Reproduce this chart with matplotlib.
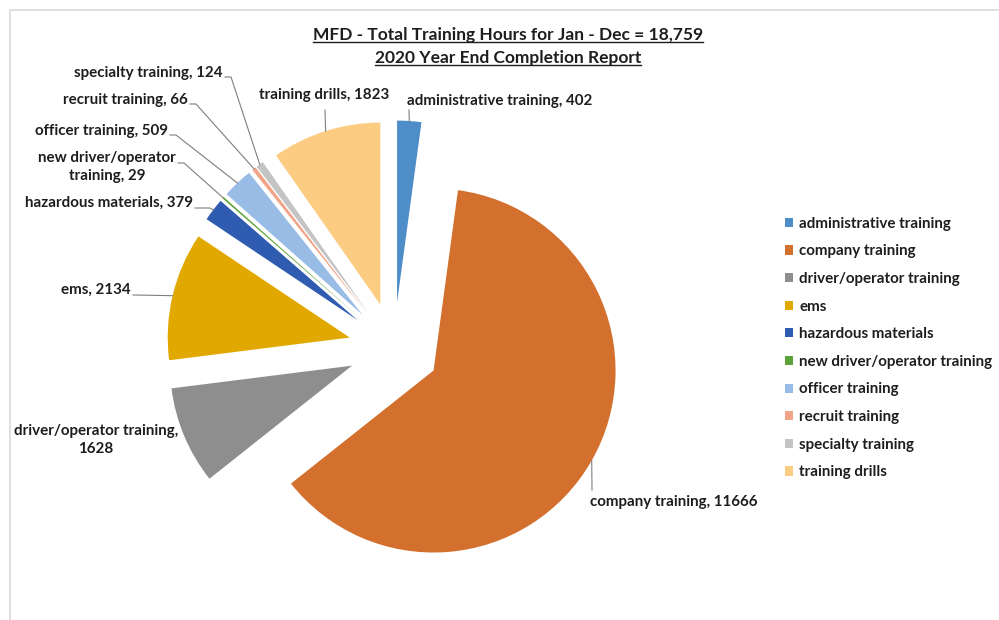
import matplotlib
matplotlib.use("Agg")
import matplotlib.pyplot as plt
import numpy as np

W, H = 999, 620

categories = ["administrative training", "company training", "driver/operator training",
              "ems", "hazardous materials", "new driver/operator training",
              "officer training", "recruit training", "specialty training", "training drills"]
hours = [402, 11666, 1628, 2134, 379, 29, 509, 66, 124, 1823]
colors = ["#4F8DC9", "#D3702D", "#8E8E8E", "#E1A900", "#2F5BB1",
          "#5EA33A", "#98BCE6", "#F2A488", "#C4C4C4", "#FDCC83"]

title_lines = ["MFD - Total Training Hours for Jan - Dec = 18,759",
               "2020 Year End Completion Report"]

# label layout in picture pixels (x, y from top): text pos, ha, leader start, elbow
label_layout = [
    dict(xy=(407, 101), ha="left", start=(409, 110), elbow=None),
    dict(xy=(590, 502), ha="left", start=(592, 490), elbow=None),
    dict(xy=(96, 440), ha="center", start=None, elbow=None),
    dict(xy=(131, 290), ha="right", start=(133, 295), elbow=None),
    dict(xy=(193, 203), ha="right", start=(195, 208), elbow=(210, 208)),
    dict(xy=(107, 167), ha="center", start=(178, 163), elbow=(184, 163)),
    dict(xy=(168, 131), ha="right", start=(170, 135), elbow=(176, 135)),
    dict(xy=(188, 100), ha="right", start=(190, 104), elbow=(196, 104)),
    dict(xy=(223, 73), ha="right", start=(225, 77), elbow=(231, 77)),
    dict(xy=(259, 95), ha="left", start=(325, 110), elbow=None),
]
label_text = ["administrative training, 402", "company training, 11666",
              "driver/operator training,\n1628", "ems, 2134", "hazardous materials, 379",
              "new driver/operator\ntraining, 29", "officer training, 509",
              "recruit training, 66", "specialty training, 124", "training drills, 1823"]

FONT = "Lato"
TXT = "#1E1E1E"
RADIUS = 182

fig = plt.figure(figsize=(W / 100, H / 100), dpi=100)
ax = fig.add_axes([0, 0, 1, 1])

def Y(y):
    return H - y

# explode is in data units here, so scale by radius
wedges, _ = ax.pie(hours, explode=[0.25 * RADIUS] * len(hours), colors=colors,
                   startangle=90, counterclock=False, radius=RADIUS,
                   center=(394, Y(348)), wedgeprops=dict(linewidth=0))
ax.set_xlim(0, W)
ax.set_ylim(0, H)
ax.set_aspect("equal")
ax.axis("off")

# chart frame (top and left edges visible)
ax.plot([10, 10, W], [0, Y(10), Y(10)], color="#D9D9D9", lw=1.2)

for w, txt, lay in zip(wedges, label_text, label_layout):
    mid = np.deg2rad((w.theta1 + w.theta2) / 2)
    px = w.center[0] + w.r * np.cos(mid)
    py = w.center[1] + w.r * np.sin(mid)
    x, y = lay["xy"]
    ax.text(x, Y(y), txt, ha=lay["ha"], va="center", fontsize=10.9, fontweight="bold",
            family=FONT, color=TXT, linespacing=1.35)
    if lay["start"] is not None:
        xs = [lay["start"][0]]
        ys = [Y(lay["start"][1])]
        if lay["elbow"] is not None:
            xs.append(lay["elbow"][0])
            ys.append(Y(lay["elbow"][1]))
        xs.append(px)
        ys.append(py)
        ax.plot(xs, ys, color="#7F7F7F", lw=0.8)

# title with underline
title_y = [35, 58]
fig.canvas.draw()
renderer = fig.canvas.get_renderer()
for line, ty in zip(title_lines, title_y):
    t = ax.text(508, Y(ty), line, ha="center", va="center", fontsize=12.5,
                fontweight="bold", family=FONT, color=TXT)
    bb = t.get_window_extent(renderer)
    ax.plot([bb.x0, bb.x1], [bb.y0 + 1, bb.y0 + 1], color=TXT, lw=1.0)

leg = ax.legend(wedges, categories, loc="center left",
                bbox_to_anchor=(785 / W, 1 - 348 / H), bbox_transform=fig.transFigure,
                frameon=False, handlelength=0.55, handleheight=0.55, handletextpad=0.4,
                labelspacing=0.9, borderpad=0, borderaxespad=0,
                prop=dict(family=FONT, weight="bold", size=10.9))
for t in leg.get_texts():
    t.set_color(TXT)

fig.savefig("out.png", dpi=100)
